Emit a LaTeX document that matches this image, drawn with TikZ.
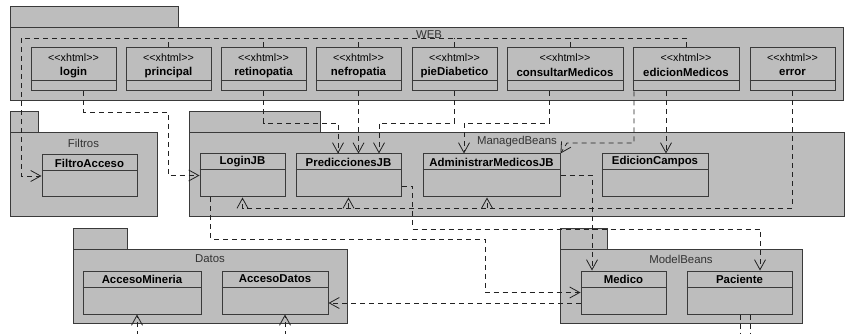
\documentclass[tikz,border=0pt]{standalone}
\usepackage{fontspec}
\newfontfamily\umlfont{Liberation Sans}
\usetikzlibrary{arrows.meta,fit,calc}
\definecolor{pkgfill}{HTML}{BDBDBD}
\definecolor{pkgline}{HTML}{3A3A3A}
\definecolor{lbltext}{HTML}{333333}
\definecolor{depline}{HTML}{222222}
\tikzset{
  pkgbox/.style={draw=pkgline, fill=pkgfill, line width=1pt, inner sep=0pt},
  clsbox/.style={draw=pkgline, fill=pkgfill, line width=1pt, inner sep=0pt},
  clsline/.style={draw=pkgline, line width=1pt},
  stereo/.style={inner sep=0pt, font=\umlfont\fontsize{10.7}{12}\selectfont, text=black},
  clsname/.style={inner sep=0pt, font=\umlfont\bfseries\fontsize{11.4}{13}\selectfont, text=black},
  pkglabel/.style={inner sep=0pt, font=\umlfont\fontsize{11.4}{13}\selectfont, text=lbltext},
  depl/.style={draw=depline, line width=0.8pt, dash pattern=on 5pt off 4pt},
  dep/.style={depl, -{Straight Barb[length=10pt,width=11pt,line width=0.8pt]}},
}
\newcommand{\webpage}[4]{%
  \node[clsbox, fit={(#2,48) (#3,91)}] (#1) {};
  \draw[clsline] (#1.west |- 0,81) -- (#1.east |- 0,81);
  \node[stereo] (#1-s) at (#1.north |- 0,57.5) {<<xhtml>>};
  \node[clsname] (#1-n) at (#1.north |- 0,72.5) {#4};}
\newcommand{\beanclass}[6]{%
  \node[clsbox, fit={(#2,#3) (#4,#5)}] (#1) {};
  \draw[clsline] (#1.west |- 0,#3+16) -- (#1.east |- 0,#3+16);
  \node[clsname] (#1-n) at (#1.north |- 0,#3+8) {#6};}
\begin{document}
\begin{tikzpicture}[x=1pt,y=-1pt]
\useasboundingbox (0,0) rectangle (847,334);
% ---------- packages ----------
\node[pkgbox, fit={(10,7) (178,28)}] (webtab) {};
\node[pkgbox, fit={(10,28) (843,101)}] (web) {};
\node[pkglabel] (webL) at (429,35) {WEB};

\node[pkgbox, fit={(10,112) (38,133)}] (filtab) {};
\node[pkgbox, fit={(10,133) (157,217)}] (filtros) {};
\node[pkglabel] (filL) at (83.5,143) {Filtros};

\node[pkgbox, fit={(189,112) (320,133)}] (mbtab) {};
\node[pkgbox, fit={(189,133) (844,217)}] (mb) {};
\node[pkglabel] (mbL) at (517,142) {ManagedBeans};

\node[pkgbox, fit={(73,229) (127,250)}] (dattab) {};
\node[pkgbox, fit={(73,250) (347,323)}] (datos) {};
\node[pkglabel] (datL) at (210,259) {Datos};

\node[pkgbox, fit={(560,229) (607,250)}] (modtab) {};
\node[pkgbox, fit={(560,250) (802,323)}] (model) {};
\node[pkglabel] (modL) at (681,259) {ModelBeans};

% ---------- classes ----------
\webpage{login}{31}{116}{login}
\webpage{principal}{126}{211}{principal}
\webpage{retinopatia}{221}{306}{retinopatia}
\webpage{nefropatia}{316}{401}{nefropatia}
\webpage{pieDiabetico}{412}{497}{pieDiabetico}
\webpage{consultarMedicos}{507}{623}{consultarMedicos}
\webpage{edicionMedicos}{633}{739}{edicionMedicos}
\webpage{error}{750}{835}{error}

\beanclass{FiltroAcceso}{42}{155}{137}{197}{FiltroAcceso}
\beanclass{LoginJB}{200}{154}{285}{197}{LoginJB}
\beanclass{PrediccionesJB}{296}{154}{401}{197}{PrediccionesJB}
\beanclass{AdministrarMedicosJB}{423}{154}{560}{197}{AdministrarMedicosJB}
\beanclass{EdicionCampos}{602}{154}{708}{197}{EdicionCampos}
\beanclass{AccesoMineria}{83}{271}{201}{314}{AccesoMineria}
\beanclass{AccesoDatos}{222}{271}{328}{314}{AccesoDatos}
\beanclass{Medico}{581}{271}{666}{314}{Medico}
\beanclass{Paciente}{687}{271}{792}{314}{Paciente}

% ---------- dependencies ----------
% pages -> FiltroAcceso
\draw[dep] (edicionMedicos.north) |- (21,38) |- (FiltroAcceso.west);
\foreach \p in {principal,retinopatia,nefropatia,pieDiabetico}
  \draw[depl] (\p.north) -- (\p.north |- 0,38);
\draw[depl] ([xshift=5pt]consultarMedicos.north) -- ([xshift=5pt]consultarMedicos.north |- 0,38);

% login -> LoginJB
\draw[dep] ([xshift=10pt]login.south) |- (168,112) |- (LoginJB.west);
% retinopatia, nefropatia, pieDiabetico -> PrediccionesJB
\draw[dep] (retinopatia.south) |- (338,123) -- ([xshift=-10.5pt]PrediccionesJB.north);
\draw[dep] (nefropatia.south) -- (nefropatia.south |- PrediccionesJB.north);
\draw[dep] (pieDiabetico.south) |- (379,123) -- ([xshift=30.5pt]PrediccionesJB.north);
% consultarMedicos -> AdministrarMedicosJB
\draw[dep] ([xshift=-16pt]consultarMedicos.south) |- (464,123) -- ([xshift=-27.5pt]AdministrarMedicosJB.north);
% edicionMedicos -> AdministrarMedicosJB, EdicionCampos
\draw[dep] ([xshift=-52pt]edicionMedicos.south) |- (567,143) -- (AdministrarMedicosJB.north east);
\draw[dep] ([xshift=-20pt]edicionMedicos.south) -- ([xshift=11pt]EdicionCampos.north);
% error -> LoginJB, PrediccionesJB, AdministrarMedicosJB
\draw[dep] (error.south) |- (LoginJB.south |- 0,208) -- (LoginJB.south);
\draw[dep] (PrediccionesJB.south |- 0,208) -- (PrediccionesJB.south);
\draw[dep] ([xshift=-4.5pt]AdministrarMedicosJB.south |- 0,208) -- ([xshift=-4.5pt]AdministrarMedicosJB.south);
% LoginJB -> Medico
\draw[dep] ([xshift=-32pt]LoginJB.south) |- (485,239) |- (Medico.west);
% PrediccionesJB -> Paciente
\draw[dep] ([yshift=-10.5pt]PrediccionesJB.east) -| (412,229) -| ([xshift=20.5pt]Paciente.north);
% AdministrarMedicosJB -> Medico
\draw[dep] (AdministrarMedicosJB.east) -| ([xshift=-31.5pt]Medico.north);
% Medico -> AccesoDatos
\draw[dep] ([yshift=-10.5pt]Medico.west) -- ([yshift=-10.5pt]AccesoDatos.east);
% from below
\coordinate (amIn) at (137,336);
\coordinate (adIn) at (285,336);
\draw[dep] (amIn) -- (amIn |- AccesoMineria.south);
\draw[dep] (adIn) -- (adIn |- AccesoDatos.south);
\coordinate (paOut1) at (740,336);
\coordinate (paOut2) at (750,336);
\draw[depl] (paOut1 |- Paciente.south) -- (paOut1);
\draw[depl] (paOut2 |- Paciente.south) -- (paOut2);
\end{tikzpicture}
\end{document}
